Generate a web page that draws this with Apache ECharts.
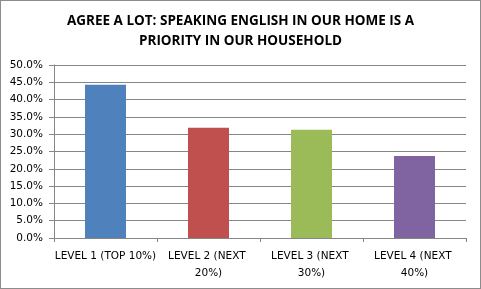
<!DOCTYPE html>
<html><head><meta charset="utf-8">
<script src="https://cdn.jsdelivr.net/npm/echarts@6/dist/echarts.min.js"></script>
<style>html,body{margin:0;padding:0;background:#fff}#c{width:481px;height:289px;box-sizing:border-box;border:1px solid #8c8c8c}</style>
</head><body><div id="c"></div>
<script>
const titleText = "AGREE A LOT: SPEAKING ENGLISH IN OUR HOME IS A\nPRIORITY IN OUR HOUSEHOLD";
const categories = ["LEVEL 1 (TOP 10%)", "LEVEL 2 (NEXT 20%)", "LEVEL 3 (NEXT 30%)", "LEVEL 4 (NEXT 40%)"];
const values = [44.3, 31.9, 31.3, 23.7];
const colors = ["#4f81bd", "#c0504d", "#9bbb59", "#8064a2"];
const yMin = 0, yMax = 50, yStep = 5;

const chart = echarts.init(document.getElementById('c'), null, {renderer: 'canvas'});
chart.setOption({
  animation: false,
  title: {
    text: titleText, left: 'center', top: 5,
    textStyle: {fontFamily: 'Open Sans', fontWeight: 'bold', fontSize: 13.5, color: '#000', lineHeight: 20}
  },
  grid: {left: 53, right: 14, top: 64, bottom: 50},
  xAxis: {
    type: 'category', data: categories,
    axisLine: {lineStyle: {color: '#868686'}},
    axisTick: {show: true, length: 4, lineStyle: {color: '#868686'}},
    axisLabel: {interval: 0, width: 103, overflow: 'break', fontFamily: 'DejaVu Sans', fontSize: 10.5, color: '#000', lineHeight: 17, margin: 10}
  },
  yAxis: {
    type: 'value', min: yMin, max: yMax, interval: yStep,
    axisLine: {show: true, lineStyle: {color: '#868686'}},
    axisTick: {show: true, length: 5, lineStyle: {color: '#868686'}},
    splitLine: {lineStyle: {color: '#868686'}},
    axisLabel: {formatter: v => v.toFixed(1) + '%', fontFamily: 'DejaVu Sans', fontSize: 10.5, color: '#000', margin: 11}
  },
  series: [{
    type: 'bar', barWidth: 41,
    data: values.map((v, i) => ({value: v, itemStyle: {color: colors[i]}}))
  }]
});
</script></body></html>
